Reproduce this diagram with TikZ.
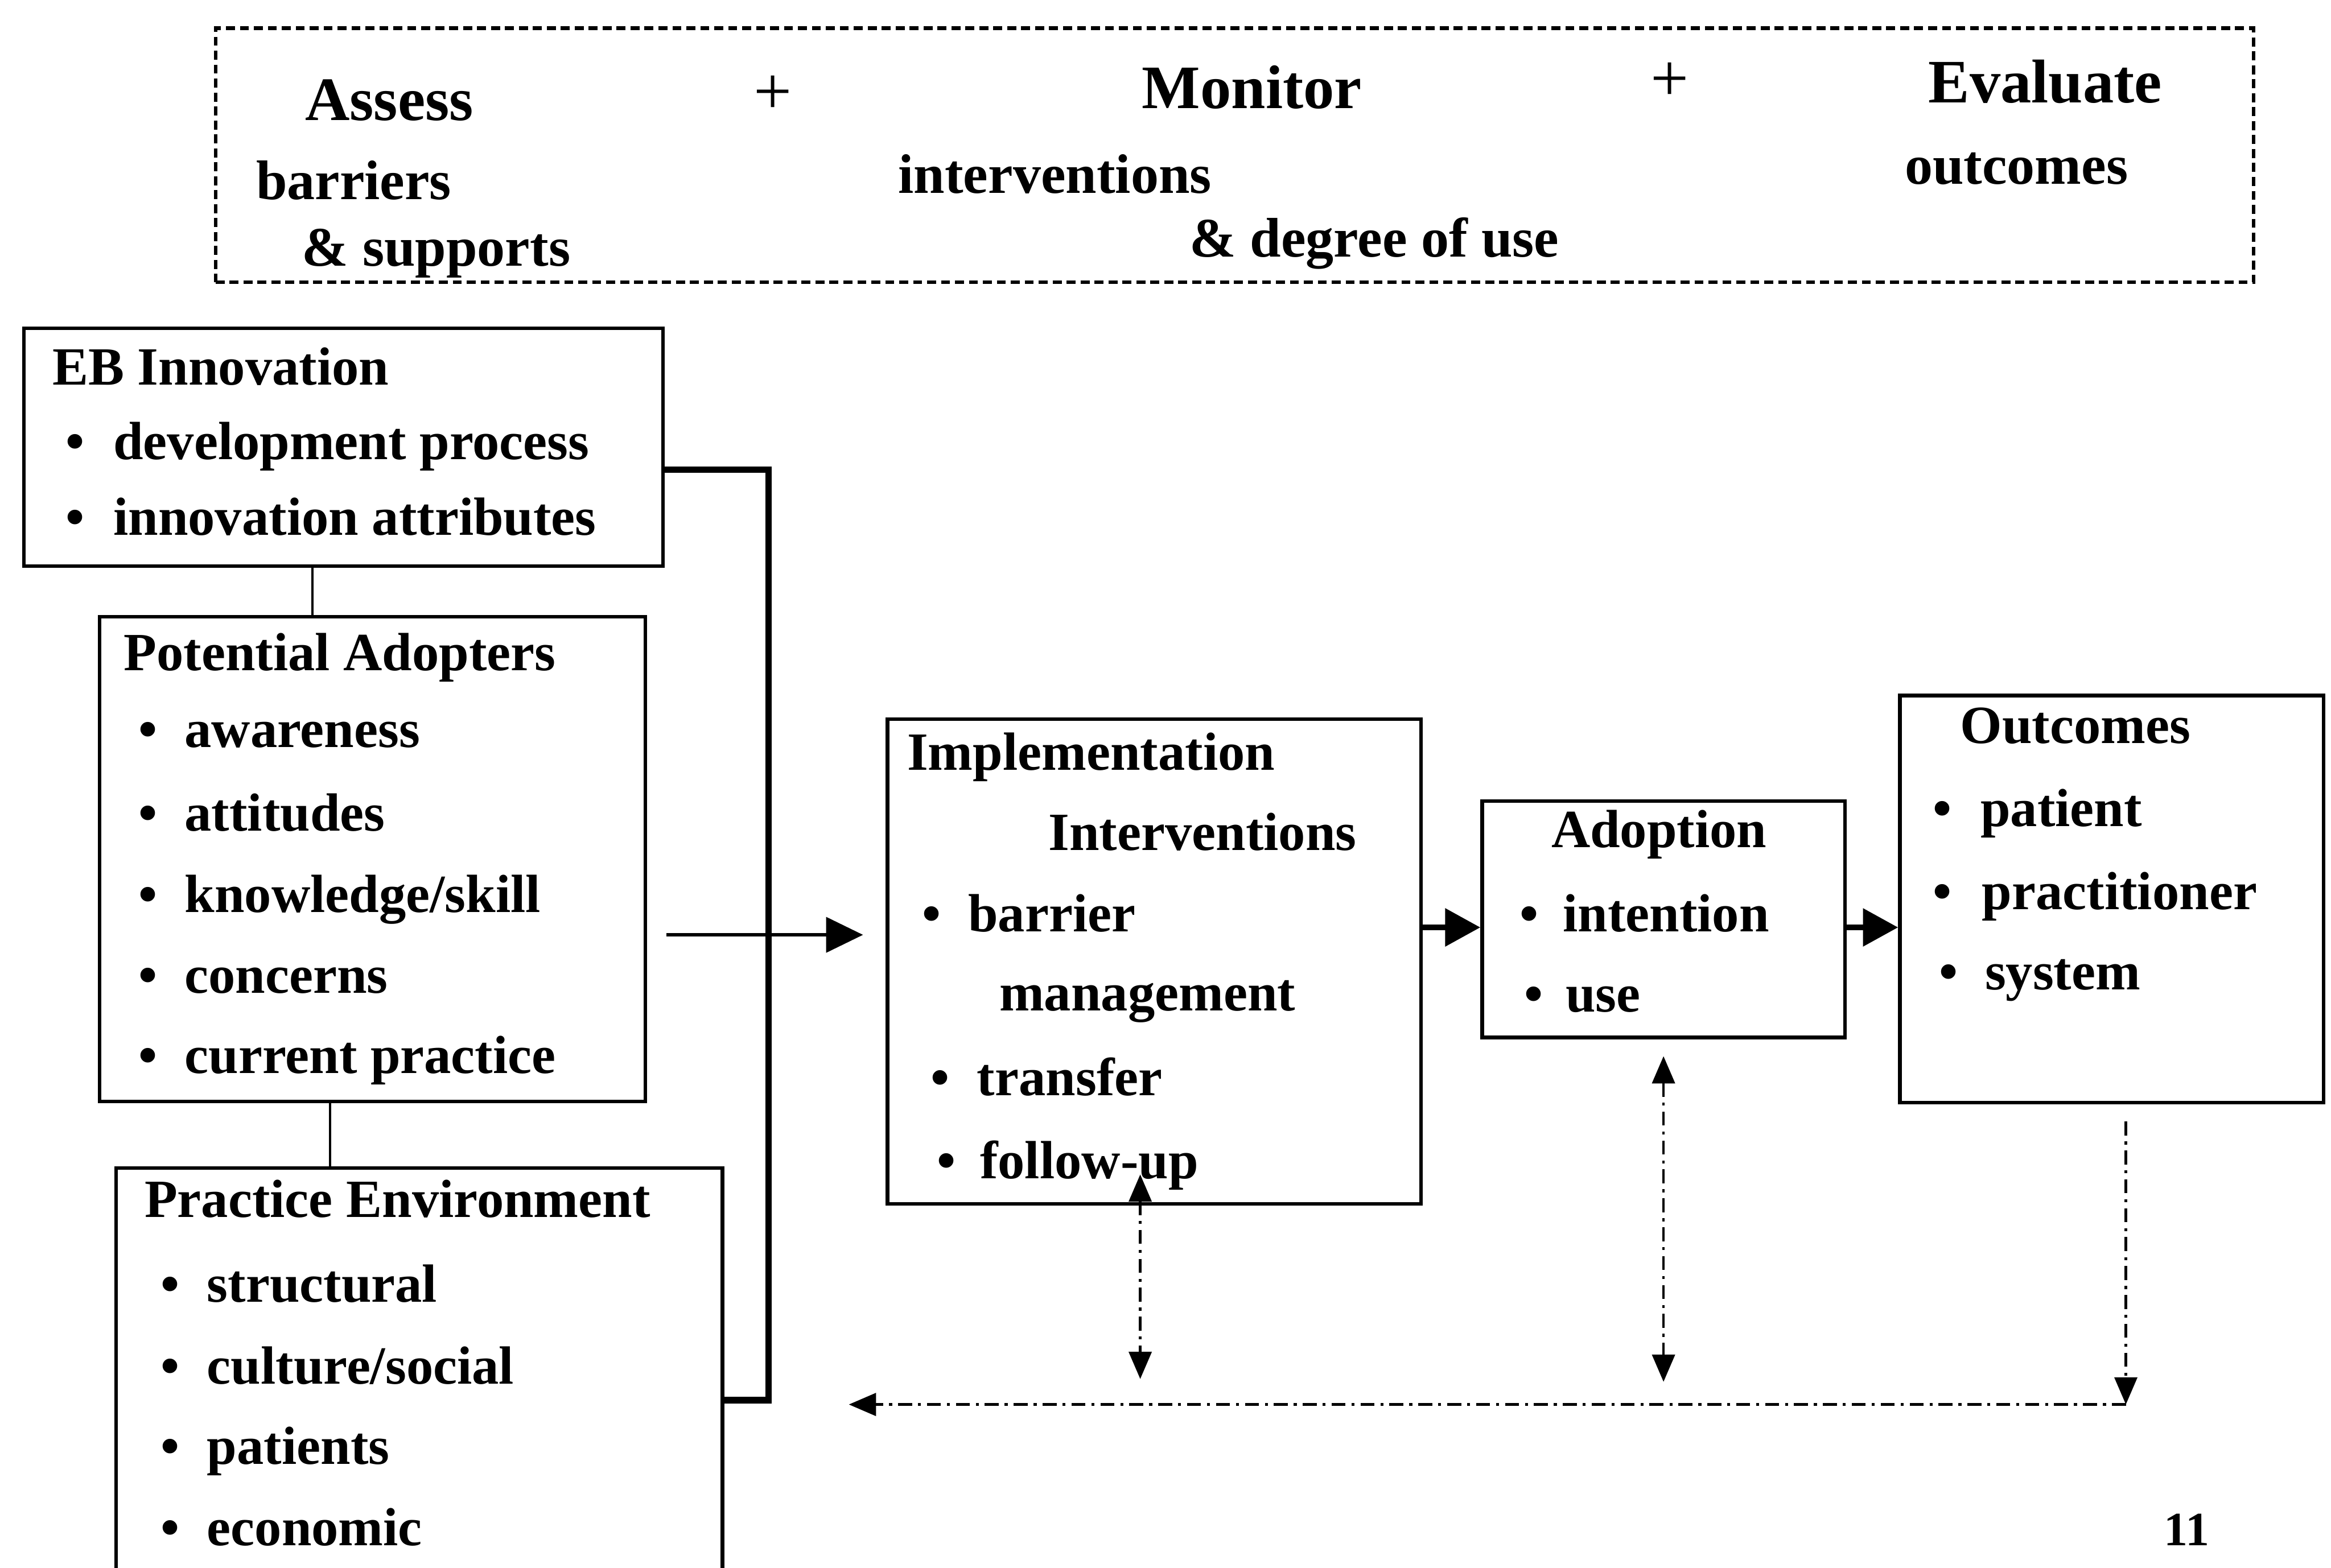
\documentclass[tikz,border=0pt]{standalone}
\usepackage{fontspec}
\setmainfont{Liberation Serif}
\usetikzlibrary{arrows.meta,fit}

% type sizes
\newcommand\fbody{\fontsize{27}{32}\selectfont\bfseries}
\newcommand\fhead{\fontsize{31}{36}\selectfont\bfseries}
\newcommand\fsub{\fontsize{28}{33}\selectfont\bfseries}
\newcommand\fplus{\fontsize{34}{40}\selectfont}

% bullet line: name, bullet x, text x, baseline y, text
\newcommand\blt[5]{%
  \node[txt] (#1b) at (#2,#4) {•};
  \node[txt] (#1) at (#3,#4) {#5};}

\begin{document}
\begin{tikzpicture}[x=0.02622cm, y=-0.02622cm,
  box/.style={draw, line width=1.8pt, inner sep=0pt},
  strip/.style={draw, line width=1.8pt, dash pattern=on 4.5pt off 2.5pt, inner sep=0pt},
  txt/.style={anchor=base west, inner sep=0pt, font=\fbody},
  ctr/.style={anchor=base, inner sep=0pt, font=\fbody},
  head/.style={anchor=base west, inner sep=0pt, font=\fhead},
  sub/.style={anchor=base west, inner sep=0pt, font=\fsub},
  link/.style={line width=1.1pt},
  bracket/.style={line width=3.4pt, line join=miter},
  mainarrow/.style={line width=1.5pt, -{Triangle[length=0.65cm,width=0.62cm]}},
  flowarrow/.style={line width=3pt, -{Triangle[length=0.62cm,width=0.65cm]}},
  fb/.style={line width=1.3pt, dash pattern=on 7pt off 3pt on 1.5pt off 3pt,
    >={Triangle[length=0.48cm,width=0.4cm]}},
]
\useasboundingbox (0,0) rectangle (1568,1055);
\clip (0,0) rectangle (1568,1055);
\fill[white] (0,0) rectangle (1568,1055);

% ---- header strip: Assess + Monitor + Evaluate
\node[strip, fit={(145,19) (1516,190)}] (strip) {};
\node[head] (hA) at (205,81) {Assess};
\node[anchor=center, inner sep=0pt, font=\fplus] (p1) at (520,64) {+};
\node[head] (hM) at (768,73) {Monitor};
\node[anchor=center, inner sep=0pt, font=\fplus] (p2) at (1123,55) {+};
\node[head] (hE) at (1297,69) {Evaluate};
\node[sub] (sA1) at (172,134) {barriers};
\node[sub] (sA2) at (203,179) {\& supports};
\node[sub] (sM1) at (604,130) {interventions};
\node[sub] (sM2) at (800,173) {\& degree of use};
\node[sub] (sE) at (1281,124) {outcomes};

% ---- EB innovation
\node[box, fit={(16,221) (446,381)}] (eb) {};
\node[txt] (ebT) at (35,259) {EB Innovation};
\blt{eb1}{44}{76}{309}{development process}
\blt{eb2}{44}{76}{360}{innovation attributes}

% ---- potential adopters
\node[box, fit={(67,415) (434,741)}] (pa) {};
\node[txt] (paT) at (83,451) {Potential Adopters};
\blt{pa1}{93}{124}{503}{awareness}
\blt{pa2}{93}{124}{559}{attitudes}
\blt{pa3}{93}{124}{614}{knowledge/skill}
\blt{pa4}{93}{124}{668}{concerns}
\blt{pa5}{93}{124}{722}{current practice}

% ---- practice environment (runs past the lower edge)
\node[box, fit={(78,786) (486,1100)}] (pe) {};
\node[txt] (peT) at (97,819) {Practice Environment};
\blt{pe1}{108}{139}{876}{structural}
\blt{pe2}{108}{139}{931}{culture/social}
\blt{pe3}{108}{139}{985}{patients}
\blt{pe4}{108}{139}{1040}{economic}

% ---- implementation interventions
\node[box, fit={(597,484) (956,810)}] (impl) {};
\node[txt] (imT1) at (610,518) {Implementation};
\node[txt] (imT2) at (705,572) {Interventions};
\blt{im1}{620}{651}{627}{barrier}
\node[txt] (im1b2) at (672,680) {management};
\blt{im2}{626}{657}{737}{transfer}
\blt{im3}{630}{659}{793}{follow-up}

% ---- adoption
\node[box, fit={(997,539) (1241,698)}] (adopt) {};
\node[ctr] (adT) at (1116,570) {Adoption};
\blt{ad1}{1022}{1051}{627}{intention}
\blt{ad2}{1025}{1053}{681}{use}

% ---- outcomes
\node[box, fit={(1278,468) (1563,742)}] (out) {};
\node[ctr] (ouT) at (1396,500) {Outcomes};
\blt{ou1}{1300}{1332}{556}{patient}
\blt{ou2}{1300}{1333}{612}{practitioner}
\blt{ou3}{1304}{1335}{666}{system}

% page number
\node[anchor=base, inner sep=0pt, font=\fontsize{24}{28}\selectfont\bfseries] (pg) at (1471,1040) {11};

% ---- connectors
\coordinate (ebpa) at (210,0);
\coordinate (pape) at (222,0);
\draw[link] (eb.south -| ebpa) -- (pa.north -| ebpa);
\draw[link] (pa.south -| pape) -- (pe.north -| pape);

\coordinate (brT) at (517,316);
\coordinate (brB) at (517,942);
\draw[bracket] (eb.east |- brT) -- (brT) -- (brB) -- (pe.east |- brB);

\coordinate (mainY) at (0,629);
\draw[mainarrow, shorten <=0.34cm, shorten >=0.4cm] (pa.east |- mainY) -- (impl.west |- mainY);

\coordinate (rowY) at (0,624);
\draw[flowarrow] (impl.east |- rowY) -- (adopt.west |- rowY);
\draw[flowarrow] (adopt.east |- rowY) -- (out.west |- rowY);

% ---- feedback loop
\coordinate (fbY) at (0,945);
\coordinate (fbR) at (1430,945);
\coordinate (fbL) at (571,945);
\coordinate (fuX) at (767,0);
\draw[fb, <->, shorten <=-0.55cm, shorten >=0.45cm] (impl.south -| fuX) -- (fuX |- fbY);
\draw[fb, <->, shorten <=0.3cm, shorten >=0.4cm] (adopt.south) -- (adopt.south |- fbY);
\draw[fb, ->, shorten <=0.3cm] (out.south -| fbR) -- (fbR);
\draw[fb, ->] (fbR) -- (fbL);
\end{tikzpicture}
\end{document}
